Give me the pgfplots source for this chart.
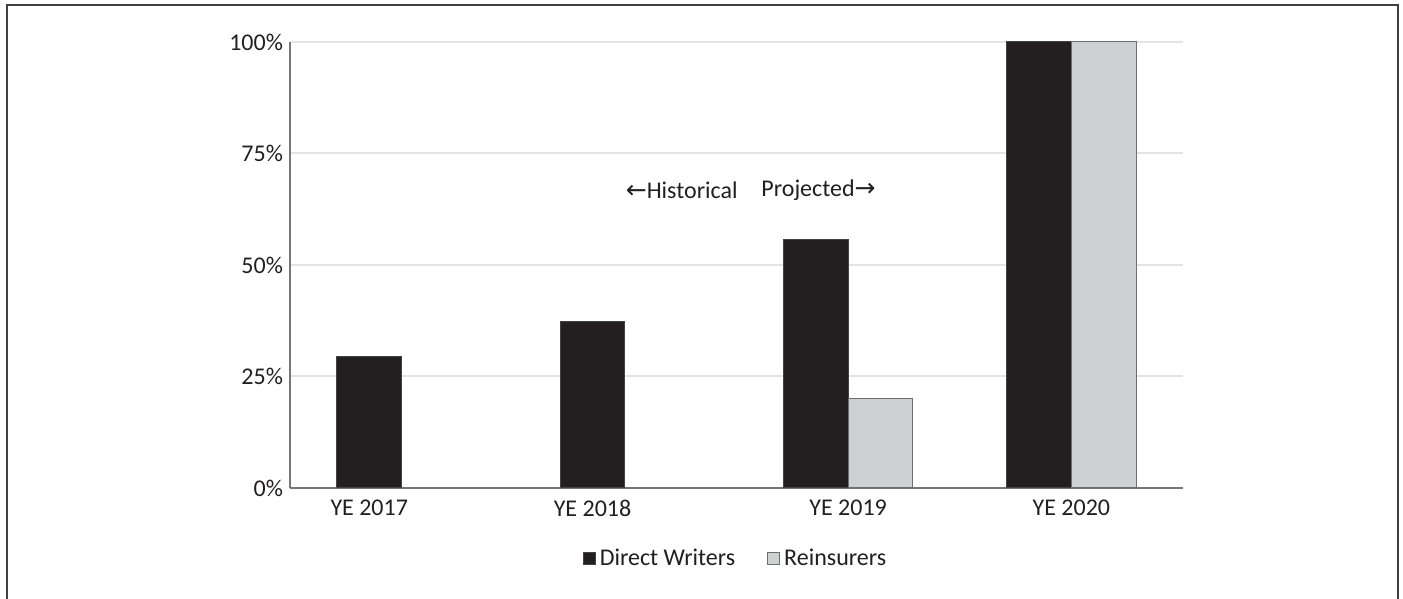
\documentclass[border=0pt]{standalone}
\usepackage{fontspec}
\setmainfont{Carlito}
\newfontfamily\dejavu{DejaVu Sans}
\usepackage{pgfplots}
\pgfplotsset{compat=1.18}
\definecolor{dark}{HTML}{231F20}
\definecolor{light}{HTML}{CFD0D2}
\definecolor{edge}{HTML}{6D6E71}
\definecolor{axisgray}{HTML}{767676}
\definecolor{gridgray}{HTML}{E3E3E3}
\definecolor{txt}{HTML}{231F20}
\begin{document}
\begin{tikzpicture}[font=\fontsize{12}{14}\selectfont]
\useasboundingbox (0,0) rectangle (701.5pt,299.5pt);
\draw[color=black!75, line width=1pt] (3.5pt,0) -- (3.5pt,297pt) -- (699pt,297pt) -- (699pt,0);
\begin{axis}[
 at={(145pt,55.5pt)}, anchor=south west,
 scale only axis, width=446.5pt, height=223pt,
 xmin=-0.5, xmax=3.5, ymin=0, ymax=100,
 axis x line=bottom, axis y line=left,
 axis line style={axisgray, line width=1pt, -},
 ytick={0,25,50,75,100},
 yticklabel={\pgfmathprintnumber{\tick}\%},
 xtick={-0.145,0.855,2,3},
 xticklabels={YE 2017, YE 2018, YE 2019, YE 2020},
 xticklabel style={yshift=-2.5pt},
 major tick length=0pt,
 ymajorgrids, grid style={gridgray, line width=1pt},
 tick label style={font=\fontsize{12}{14}\selectfont, text=txt},
 /pgf/number format/assume math mode=true,
 ybar, bar width=0.29,
 legend style={at={(0.5,-0.159)}, anchor=center, draw=none, legend columns=2,
   font=\fontsize{12}{14}\selectfont, text=txt,
   /tikz/every even column/.append style={column sep=14pt}},
 legend image code/.code={\draw[#1] (0pt,-3pt) rectangle (6pt,3pt);},
]
\addplot[fill=dark, draw=dark!85!white, line width=0.5pt, bar shift=-0.145]
  coordinates {(0,29.4) (1,37.3) (2,55.7) (3,100)};
\addplot[fill=light, draw=edge, line width=0.5pt, bar shift=0.145]
  coordinates {(2,20.0) (3,100)};
\legend{Direct Writers, Reinsurers}
\node[anchor=east, inner sep=0pt, text=txt] at (axis cs:1.507,66.8) {{\dejavu\fontsize{12.5}{14}\selectfont ←}Historical};
\node[anchor=west, inner sep=0pt, text=txt] at (axis cs:1.610,66.8) {Projected{\dejavu\fontsize{12.5}{14}\selectfont →}};
\end{axis}
\end{tikzpicture}
\end{document}
